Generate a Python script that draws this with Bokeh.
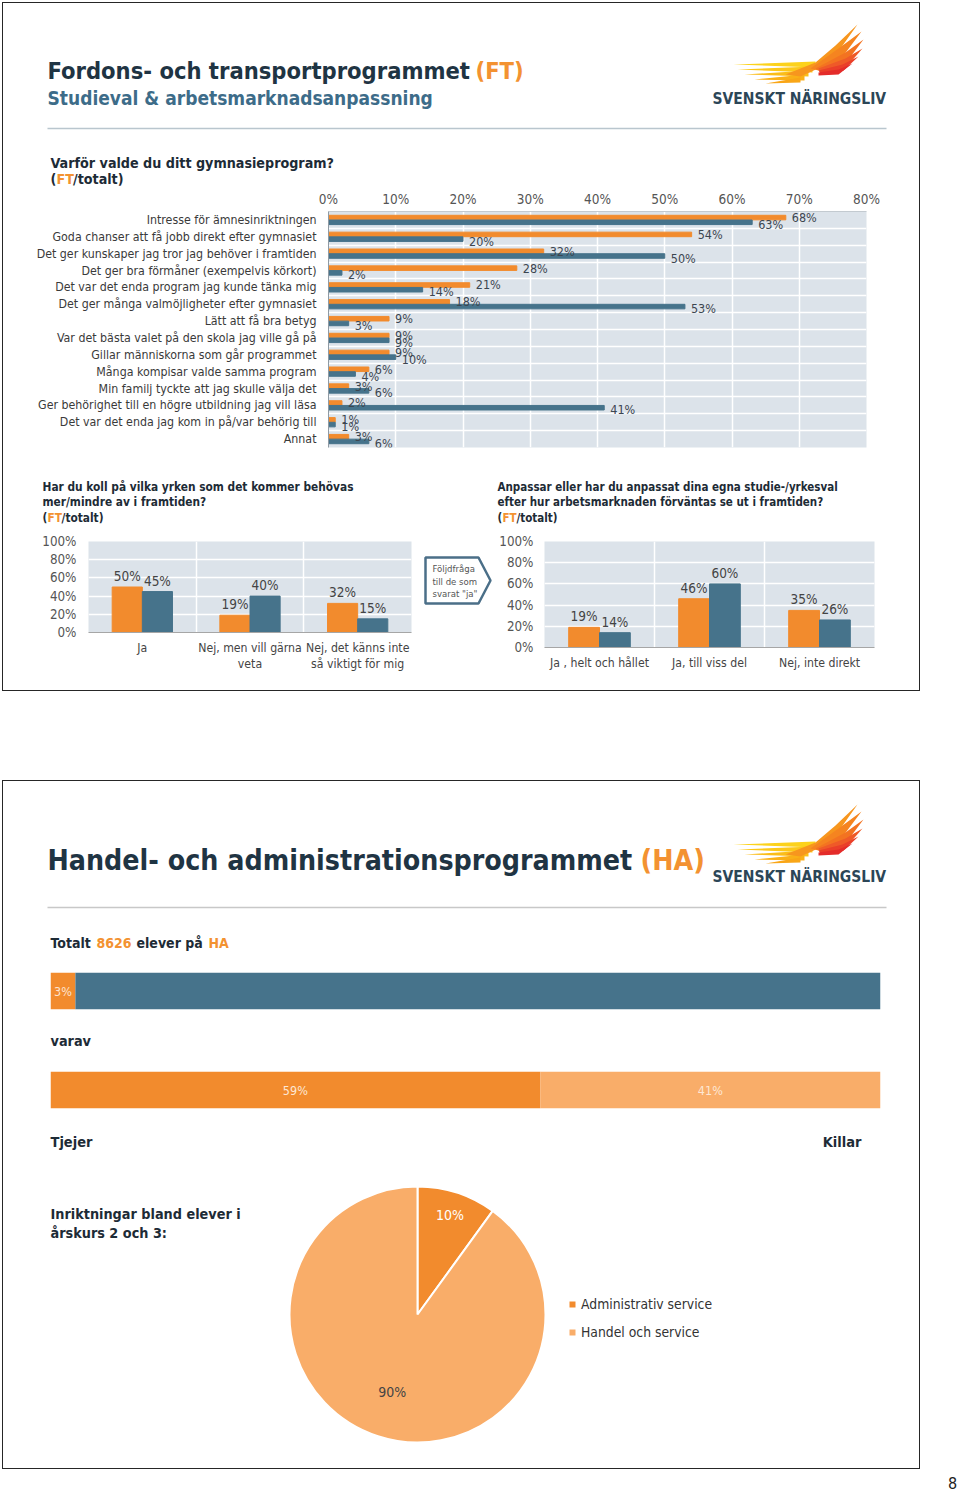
import numpy as np
from bokeh.plotting import figure
from bokeh.models import Range1d, FixedTicker, Div, Spacer, Legend, LegendItem
from bokeh.layouts import column, row
from bokeh.core.properties import value
from bokeh.embed import file_html
from bokeh.resources import INLINE

# ---------------- data ----------------
reasons = [
    "Intresse för ämnesinriktningen",
    "Goda chanser att få jobb direkt efter gymnasiet",
    "Det ger kunskaper jag tror jag behöver i framtiden",
    "Det ger bra förmåner (exempelvis körkort)",
    "Det var det enda program jag kunde tänka mig",
    "Det ger många valmöjligheter efter gymnasiet",
    "Lätt att få bra betyg",
    "Var det bästa valet på den skola jag ville gå på",
    "Gillar människorna som går programmet",
    "Många kompisar valde samma program",
    "Min familj tyckte att jag skulle välja det",
    "Ger behörighet till en högre utbildning jag vill läsa",
    "Det var det enda jag kom in på/var behörig till",
    "Annat",
]
reasons_ft = [68, 54, 32, 28, 21, 18, 9, 9, 9, 6, 3, 2, 1, 3]
reasons_tot = [63, 20, 50, 2, 14, 53, 3, 9, 10, 4, 6, 41, 1, 6]
main_ticks = [0, 10, 20, 30, 40, 50, 60, 70, 80]
main_tick_labels = ["0%", "10%", "20%", "30%", "40%", "50%", "60%", "70%", "80%"]

know_cats = ["Ja", "Nej, men vill gärna\nveta", "Nej, det känns inte\nså viktigt för mig"]
know_ft = [50, 19, 32]
know_tot = [45, 40, 15]

adapt_cats = ["Ja , helt och hållet", "Ja, till viss del", "Nej, inte direkt"]
adapt_ft = [19, 46, 35]
adapt_tot = [14, 60, 26]

pct_ticks = [0, 20, 40, 60, 80, 100]
pct_tick_labels = ["0%", "20%", "40%", "60%", "80%", "100%"]

ha_total = 8626
ha_share = [3, 97]
ha_share_labelled = [True, False]
gender_labels = ["Tjejer", "Killar"]
gender_share = [59, 41]
track_labels = ["Administrativ service", "Handel och service"]
track_share = [10, 90]

# ---------------- style ----------------
FONT = "DejaVu Sans Condensed, Liberation Sans Narrow, Roboto, sans-serif"
ORANGE = "#f28b2d"
BLUE = "#46738b"
LIGHT_OR = "#f9ad69"
BG = "#dce3ea"
DARK = "#1f3443"
QTXT = "#1d2b36"
TXT = "#3a3a3a"
OTXT = "#f39231"


def canvas(ox, oy, w, h):
    p = figure(width=w, height=h, x_range=Range1d(ox, ox + w), y_range=Range1d(oy + h, oy),
               min_border=0, toolbar_location=None, tools="", output_backend="svg",
               x_axis_location=None, y_axis_location=None, frame_align=False)
    p.grid.visible = False
    p.outline_line_color = None
    return p


def txt(p, x, y, s, size=14, color=TXT, bold=False, align="left", baseline="middle"):
    p.text(x=[x], y=[y], text=[s], text_font=value(FONT), text_font_size=f"{size}px",
           text_color=color, text_font_style="bold" if bold else "normal",
           text_align=align, text_baseline=baseline)


FEATHERS = [
    ([(733, 64), (815, 61), (815, 67)], "#fcd21c"),
    ([(737, 69), (812, 66), (812, 72)], "#fcc81a"),
    ([(744, 74), (808, 70), (808, 76)], "#fbbd18"),
    ([(754, 79), (804, 74), (804, 80)], "#fab017"),
    ([(765, 83), (800, 77), (800, 82)], "#f9a617"),
    ([(785, 74), (815, 62), (835, 45), (857, 24), (840, 48), (822, 66), (800, 76)], "#f7961e"),
    ([(810, 68), (838, 48), (861, 31), (843, 55), (818, 70)], "#f58420"),
    ([(815, 68), (845, 52), (863, 39), (848, 59), (820, 71)], "#f37321"),
    ([(818, 68), (845, 58), (862, 48), (848, 64), (820, 72)], "#ef5a28"),
    ([(818, 70), (842, 64), (858, 56), (843, 70), (820, 73)], "#ea3f29"),
    ([(818, 72), (838, 69), (852, 63), (838, 74), (818, 75)], "#e42c2a"),
]


def logo(p, ty, wing_dy=0):
    dy = ty - 98 + wing_dy
    for pts, col in FEATHERS:
        p.patch([q[0] for q in pts], [q[1] + dy for q in pts], fill_color=col, line_color=None)
    txt(p, 712, ty, "SVENSKT NÄRINGSLIV", 15.5, "#2c4657", bold=True)


def style_axis(ax, size=14, color="#555555", standoff=8):
    ax.major_tick_line_color = None
    ax.minor_tick_line_color = None
    ax.major_tick_out = 0
    ax.major_tick_in = 0
    ax.minor_tick_out = 0
    ax.minor_tick_in = 0
    ax.major_label_text_font = FONT
    ax.major_label_text_font_size = f"{size}px"
    ax.major_label_text_color = color
    ax.major_label_standoff = standoff


def ft_line(p, x0, y, size, dx1, dx2):
    txt(p, x0, y, "(", size, QTXT, bold=True)
    txt(p, x0 + dx1, y, "FT", size, OTXT, bold=True)
    txt(p, x0 + dx2, y, "/totalt)", size, QTXT, bold=True)


# ================= PAGE 1 =================
h1 = canvas(3, 3, 916, 184)
txt(h1, 47, 70, "Fordons- och transportprogrammet", 23.5, DARK, bold=True)
txt(h1, 475, 70, "(FT)", 23.5, OTXT, bold=True)
txt(h1, 47, 97, "Studieval & arbetsmarknadsanpassning", 19, "#3d6c89", bold=True)
logo(h1, 98)
h1.line([47, 886], [128, 128], line_color="#b9c6ce", line_width=1.5)
txt(h1, 50, 162, "Varför valde du ditt gymnasieprogram?", 14.2, QTXT, bold=True)
ft_line(h1, 50, 178.5, 14.2, 6, 22.5)

n = len(reasons)
yc = np.arange(n)[::-1].astype(float)
pm = figure(width=916, height=268, x_range=Range1d(0, 80), y_range=Range1d(-0.5, n - 0.5),
            x_axis_location="above", min_border_left=325, min_border_right=53,
            min_border_top=24, min_border_bottom=8, toolbar_location=None, tools="",
            output_backend="svg", frame_align=False)
pm.background_fill_color = BG
pm.outline_line_color = None
pm.hbar(y=yc + 0.14, left=0, right=reasons_ft, height=0.27, color=ORANGE)
pm.hbar(y=yc - 0.14, left=0, right=reasons_tot, height=0.27, color=BLUE)
pm.text(x=reasons_ft, y=yc + 0.14, text=[f"{v}%" for v in reasons_ft], x_offset=6,
        text_font=value(FONT), text_font_size="12.5px", text_color="#3c4650",
        text_align="left", text_baseline="middle")
pm.text(x=reasons_tot, y=yc - 0.14, text=[f"{v}%" for v in reasons_tot], x_offset=6, y_offset=2,
        text_font=value(FONT), text_font_size="12.5px", text_color="#3c4650",
        text_align="left", text_baseline="middle")
xa = pm.xaxis[0]
xa.ticker = FixedTicker(ticks=main_ticks)
xa.major_label_overrides = {t: l for t, l in zip(main_ticks, main_tick_labels)}
style_axis(xa, 13.5, "#555555", 5)
xa.major_label_text_line_height = 1.0
xa.axis_line_color = "#c3cad0"
ya = pm.yaxis[0]
ya.ticker = FixedTicker(ticks=[int(v) for v in yc])
ya.major_label_overrides = {int(v): r for v, r in zip(yc, reasons)}
style_axis(ya, 12.3, TXT, 12)
ya.axis_line_color = "#8f9aa3"
pm.xgrid.ticker = FixedTicker(ticks=main_ticks[1:-1])
pm.ygrid.ticker = FixedTicker(ticks=[i + 0.5 for i in range(n - 1)])
pm.grid.grid_line_color = "white"
pm.grid.grid_line_width = 1.5

qt = canvas(3, 455, 916, 75)
for (x0, lines, fs) in [(42, ["Har du koll på vilka yrken som det kommer behövas",
                              "mer/mindre av i framtiden?"], 11.8),
                        (497, ["Anpassar eller har du anpassat dina egna studie-/yrkesval",
                               "efter hur arbetsmarknaden förväntas  se ut i framtiden?"], 11.5)]:
    txt(qt, x0, 486, lines[0], fs, QTXT, bold=True)
    txt(qt, x0, 501.5, lines[1], fs, QTXT, bold=True)
    ft_line(qt, x0, 517, fs, 5, 19)


def small_chart(cats, ft, tot, w, bl, br, bt, bb, ystand):
    m = len(cats)
    xc = np.arange(m).astype(float)
    p = figure(width=w, height=160, x_range=Range1d(-0.5, m - 0.5), y_range=Range1d(0, 100),
               min_border_left=bl, min_border_right=br, min_border_top=bt, min_border_bottom=bb,
               toolbar_location=None, tools="", output_backend="svg", frame_align=False)
    p.background_fill_color = BG
    p.outline_line_color = None
    p.vbar(x=xc - 0.14, bottom=0, top=ft, width=0.28, color=ORANGE)
    p.vbar(x=xc + 0.14, bottom=0, top=tot, width=0.28, color=BLUE)
    for xs, vals in [(xc - 0.14, ft), (xc + 0.14, tot)]:
        p.text(x=xs, y=vals, text=[f"{v}%" for v in vals], y_offset=-3,
               text_font=value(FONT), text_font_size="13.5px", text_color="#444444",
               text_align="center", text_baseline="bottom")
    ax = p.xaxis[0]
    ax.ticker = FixedTicker(ticks=list(range(m)))
    ax.major_label_overrides = {i: c for i, c in enumerate(cats)}
    style_axis(ax, 12.2, "#444444", 8)
    ax.axis_line_color = "#a6a6a6"
    ay = p.yaxis[0]
    ay.ticker = FixedTicker(ticks=pct_ticks)
    ay.major_label_overrides = {t: l for t, l in zip(pct_ticks, pct_tick_labels)}
    style_axis(ay, 13.3, "#555555", ystand)
    ay.axis_line_color = None
    p.xgrid.ticker = FixedTicker(ticks=[i + 0.5 for i in range(m - 1)])
    p.ygrid.ticker = FixedTicker(ticks=pct_ticks[1:])
    p.grid.grid_line_color = "white"
    p.grid.grid_line_width = 1.5
    return p


cl = small_chart(know_cats, know_ft, know_tot, 417, 85, 9, 11, 58, 12)
co = canvas(420, 530, 72, 160)
co.patch([425, 478, 490, 478, 425], [557, 557, 580, 603, 603], fill_color="white",
         line_color="#4b6f88", line_width=2.5)
txt(co, 432, 568, "Följdfråga", 9.5, "#555555")
txt(co, 432, 580.5, "till de som", 9.5, "#555555")
txt(co, 432, 593, "svarat \"ja\"", 9.5, "#555555")
cr = small_chart(adapt_cats, adapt_ft, adapt_tot, 427, 52, 45, 11, 43, 11)

page1 = column(h1, pm, qt, row(cl, co, cr, spacing=0), spacing=0)

# ================= PAGE 2 =================
h2 = canvas(3, 781, 916, 179)
txt(h2, 47, 860, "Handel- och administrationsprogrammet", 28.3, DARK, bold=True)
txt(h2, 640, 860, "(HA)", 28.3, OTXT, bold=True)
logo(h2, 876, 2)
h2.line([47, 886], [907, 907], line_color="#c8c8c8", line_width=1.5)
txt(h2, 50, 942, "Totalt", 14, QTXT, bold=True)
txt(h2, 96, 942, f"{ha_total}", 14, OTXT, bold=True)
txt(h2, 136, 942, "elever på", 14, QTXT, bold=True)
txt(h2, 208, 942, "HA", 14, OTXT, bold=True)


def stacked(shares, colors, bt, bb, lab_color, show=None):
    s = np.array(shares, dtype=float)
    ends = np.cumsum(s)
    starts = ends - s
    if show is None:
        show = [True] * len(shares)
    p = figure(width=916, height=60, x_range=Range1d(0, 100), y_range=Range1d(0, 1),
               min_border_left=47, min_border_right=39, min_border_top=bt, min_border_bottom=bb,
               toolbar_location=None, tools="", output_backend="svg",
               x_axis_location=None, y_axis_location=None, frame_align=False)
    p.grid.visible = False
    p.outline_line_color = None
    p.hbar(y=0.5, left=starts, right=ends, height=1, fill_color=colors, line_color=None)
    idx = [i for i, f in enumerate(show) if f]
    p.text(x=[(starts[i] + ends[i]) / 2 for i in idx], y=[0.5] * len(idx),
           text=[f"{shares[i]}%" for i in idx],
           text_font=value(FONT), text_font_size="12.5px", text_color=lab_color,
           text_align="center", text_baseline="middle")
    return p


b1 = stacked(ha_share, [ORANGE, BLUE], 12, 11, "#fde3cf", ha_share_labelled)
vr = canvas(3, 1020, 916, 40)
txt(vr, 50, 1040, "varav", 14.3, QTXT, bold=True)
b2 = stacked(gender_share, [ORANGE, LIGHT_OR], 11, 12, "#fde7d4")
tk = canvas(3, 1120, 916, 60)
txt(tk, 50, 1141, gender_labels[0], 14.5, QTXT, bold=True)
txt(tk, 861, 1141, gender_labels[1], 14.5, QTXT, bold=True, align="right")

pl = canvas(3, 1180, 283, 288)
txt(pl, 50, 1213, "Inriktningar bland elever i", 14.3, QTXT, bold=True)
txt(pl, 50, 1232, "årskurs 2 och 3:", 14.3, QTXT, bold=True)

R = 128.0
pp = figure(width=633, height=288, x_range=Range1d(-131 / R, 502 / R),
            y_range=Range1d(-154 / R, 134 / R), min_border=0, toolbar_location=None, tools="",
            output_backend="svg", x_axis_location=None, y_axis_location=None, frame_align=False)
pp.grid.visible = False
pp.outline_line_color = None
fr = np.array(track_share, dtype=float) / 100.0
cum = np.concatenate([[0.0], np.cumsum(fr)])
a0 = np.pi / 2 - cum[:-1] * 2 * np.pi
a1 = np.pi / 2 - cum[1:] * 2 * np.pi
wr = pp.wedge(x=0, y=0, radius=1, start_angle=a0, end_angle=a1, direction="clock",
              fill_color=[ORANGE, LIGHT_OR], line_color="white", line_width=2)
mid = (a0 + a1) / 2
lr = np.array([0.82, 0.64])
pp.text(x=lr * np.cos(mid), y=lr * np.sin(mid), text=[f"{v}%" for v in track_share],
        text_font=value(FONT), text_font_size="14px", text_color=["white", "#444444"],
        text_align="center", text_baseline="middle")
leg = Legend(items=[LegendItem(label=track_labels[i], renderers=[wr], index=i) for i in range(2)],
             location=(281, 128), orientation="vertical", glyph_width=10, glyph_height=10,
             label_standoff=4, spacing=12, padding=0, margin=0, border_line_color=None,
             background_fill_alpha=0, label_text_font=FONT, label_text_font_size="13.8px",
             label_text_color="#333333")
pp.add_layout(leg)

page2 = column(h2, b1, vr, b2, tk, row(pl, pp, spacing=0), spacing=0)

# ================= frames & assembly =================
LINEC = "#262626"


def boxed(content, w=916, h=687):
    hl = lambda: Div(text="", width=w + 2, height=1, margin=0, styles={"background-color": LINEC})
    vl = lambda: Div(text="", width=1, height=h, margin=0, styles={"background-color": LINEC})
    return column(hl(), row(vl(), content, vl(), spacing=0), hl(), spacing=0)


foot = canvas(0, 1469, 960, 26)
txt(foot, 952, 1482, "8", 16, "#222222", align="center")

layout = column(
    Spacer(width=960, height=2, margin=0),
    row(Spacer(width=2, height=689, margin=0), boxed(page1), spacing=0),
    Spacer(width=960, height=89, margin=0),
    row(Spacer(width=2, height=689, margin=0), boxed(page2), spacing=0),
    foot,
    spacing=0,
)

open("out.html", "w").write(file_html(layout, INLINE))
